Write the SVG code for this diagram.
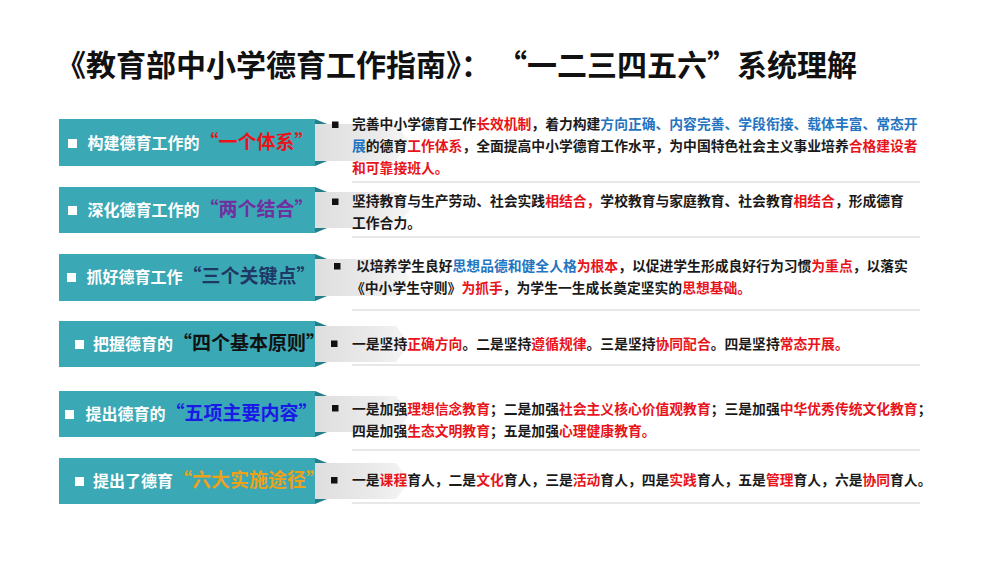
<svg xmlns="http://www.w3.org/2000/svg" width="1000" height="562" viewBox="0 0 1000 562">
<style>
text{font-family:"Noto Sans CJK SC","Noto Sans",sans-serif;font-weight:700}
.title{font-size:30px;fill:#111}
.box{fill:#3aa8b5}
.fold{fill:#1f7f8a}
.arrow{fill:url(#ga)}
.lab{font-size:16px;fill:#fff}
.q{font-size:19px}
.wb{fill:#fff}
.bb{fill:#111}
.t{font-size:13.8px;fill:#1a1a1a}
.r{fill:#e8141b}
.b{fill:#2474c0}
.sep{stroke:#e0e0e0;stroke-width:1.5}
</style>
<defs>
<linearGradient id="ga" x1="0" y1="0" x2="1" y2="0">
<stop offset="0" stop-color="#dedede"/>
<stop offset="0.7" stop-color="#ececec"/>
<stop offset="1" stop-color="#f6f6f6"/>
</linearGradient>
</defs>
<rect width="1000" height="562" fill="#fff"/>
<text class="title" x="56" y="76">《教育部中小学德育工作指南》：<tspan x="497">“一二三四五六”系统理解</tspan></text>

<g id="connectors">
<line class="sep" x1="352" y1="182" x2="920" y2="182"/>
<line class="sep" x1="352" y1="237" x2="920" y2="237"/>
<line class="sep" x1="352" y1="310" x2="920" y2="310"/>
<line class="sep" x1="352" y1="365" x2="920" y2="365"/>
<line class="sep" x1="352" y1="450" x2="920" y2="450"/>
<line class="sep" x1="352" y1="503" x2="920" y2="503"/>
</g>

<g id="row1">
<polygon class="arrow" points="315,124 396,124 410,142.5 396,161 315,161"/>
<rect class="box" x="59" y="119" width="256" height="47"/>
<polygon class="fold" points="315,119 327,124 315,124"/>
<polygon class="fold" points="315,161 327,161 315,166"/>
<rect class="wb" x="68" y="139" width="9" height="9"/>
<text class="lab" x="87.5" y="149">构建德育工作的<tspan class="q" fill="#e8141b">“一个体系”</tspan></text>
<rect class="bb" x="332" y="121.5" width="6.5" height="6.5"/>
<text class="t" x="352" y="129">完善中小学德育工作<tspan class="r">长效机制</tspan>，着力构建<tspan class="b">方向正确、内容完善、学段衔接、载体丰富、常态开</tspan></text>
<text class="t" x="352" y="151"><tspan class="b">展</tspan>的德育<tspan class="r">工作体系</tspan>，全面提高中小学德育工作水平，为中国特色社会主义事业培养<tspan class="r">合格建设者</tspan></text>
<text class="t r" x="352" y="173">和可靠接班人。</text>
</g>

<g id="row2">
<polygon class="arrow" points="315,192 396,192 410,210 396,228 315,228"/>
<rect class="box" x="59" y="187" width="256" height="46"/>
<polygon class="fold" points="315,187 327,192 315,192"/>
<polygon class="fold" points="315,228 327,228 315,233"/>
<rect class="wb" x="68" y="206" width="9" height="9"/>
<text class="lab" x="87.5" y="216">深化德育工作的<tspan class="q" fill="#7030a0">“两个结合”</tspan></text>
<rect class="bb" x="332" y="198.5" width="6.5" height="6.5"/>
<text class="t" x="352" y="206">坚持教育与生产劳动、社会实践<tspan class="r">相结合，</tspan>学校教育与家庭教育、社会教育<tspan class="r">相结合</tspan>，形成德育</text>
<text class="t" x="352" y="228">工作合力。</text>
</g>

<g id="row3">
<polygon class="arrow" points="315,259 396,259 410,277.5 396,296 315,296"/>
<rect class="box" x="59" y="254" width="256" height="47"/>
<polygon class="fold" points="315,254 327,259 315,259"/>
<polygon class="fold" points="315,296 327,296 315,301"/>
<rect class="wb" x="67" y="273" width="9" height="9"/>
<text class="lab" x="86.5" y="283">抓好德育工作<tspan class="q" fill="#1f3864">“三个关键点”</tspan></text>
<rect class="bb" x="334" y="263" width="6.5" height="6.5"/>
<text class="t" x="356" y="271">以培养学生良好<tspan class="b">思想品德和健全人格</tspan><tspan class="r">为根本</tspan>，以促进学生形成良好行为习惯<tspan class="r">为重点</tspan>，以落实</text>
<text class="t" x="351" y="293">《中小学生守则》<tspan class="r">为抓手</tspan>，为学生一生成长奠定坚实的<tspan class="r">思想基础。</tspan></text>
</g>

<g id="row4">
<polygon class="arrow" points="315,326 396,326 410,344 396,362 315,362"/>
<rect class="box" x="59" y="321" width="256" height="46"/>
<polygon class="fold" points="315,321 327,326 315,326"/>
<polygon class="fold" points="315,362 327,362 315,367"/>
<rect class="wb" x="75" y="340" width="9" height="9"/>
<text class="lab" x="93" y="350">把握德育的<tspan class="q" fill="#111">“四个基本原则”</tspan></text>
<rect class="bb" x="331" y="340.5" width="6.5" height="6.5"/>
<text class="t" x="352" y="349">一是坚持<tspan class="r">正确方向</tspan>。二是坚持<tspan class="r">遵循规律</tspan>。三是坚持<tspan class="r">协同配合</tspan>。四是坚持<tspan class="r">常态开展。</tspan></text>
</g>

<g id="row5">
<polygon class="arrow" points="315,396 396,396 410,414 396,432 315,432"/>
<rect class="box" x="59" y="391" width="256" height="46"/>
<polygon class="fold" points="315,391 327,396 315,396"/>
<polygon class="fold" points="315,432 327,432 315,437"/>
<rect class="wb" x="65" y="410" width="9" height="9"/>
<text class="lab" x="85.5" y="420">提出德育的<tspan class="q" fill="#1a1ae6">“五项主要内容”</tspan></text>
<rect class="bb" x="332" y="405" width="6.5" height="6.5"/>
<text class="t" x="352" y="413.5">一是加强<tspan class="r">理想信念教育</tspan>；二是加强<tspan class="r">社会主义核心价值观教育</tspan>；三是加强<tspan class="r">中华优秀传统文化教育</tspan>；</text>
<text class="t" x="352" y="435.5">四是加强<tspan class="r">生态文明教育</tspan>；五是加强<tspan class="r">心理健康教育。</tspan></text>
</g>

<g id="row6">
<polygon class="arrow" points="315,463 396,463 410,481 396,499 315,499"/>
<rect class="box" x="59" y="458" width="256" height="46"/>
<polygon class="fold" points="315,458 327,463 315,463"/>
<polygon class="fold" points="315,499 327,499 315,504"/>
<rect class="wb" x="75" y="477" width="9" height="9"/>
<text class="lab" x="93" y="487">提出了德育<tspan class="q" fill="#eba21a">“六大实施途径”</tspan></text>
<rect class="bb" x="331" y="477" width="6.5" height="6.5"/>
<text class="t" x="352" y="485">一是<tspan class="r">课程</tspan>育人，二是<tspan class="r">文化</tspan>育人，三是<tspan class="r">活动</tspan>育人，四是<tspan class="r">实践</tspan>育人，五是<tspan class="r">管理</tspan>育人，六是<tspan class="r">协同</tspan>育人。</text>
</g>
</svg>
